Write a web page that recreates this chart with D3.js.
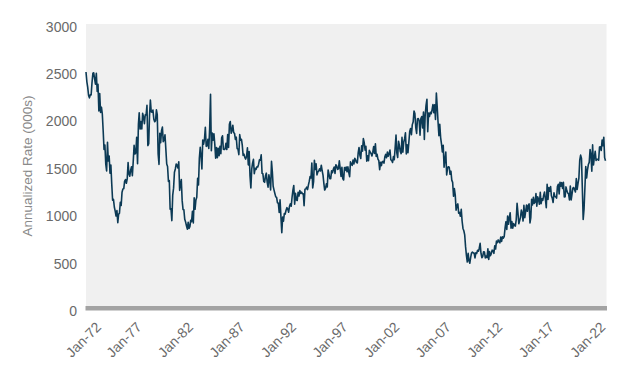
<!DOCTYPE html>
<html>
<head>
<meta charset="utf-8">
<script src="https://cdn.jsdelivr.net/npm/d3@7"></script>
<style>
  html, body { margin: 0; padding: 0; background: #fff; }
  svg { display: block; font-family: "Liberation Sans", Arial, Helvetica, sans-serif; }
</style>
</head>
<body>
<svg id="chart" width="630" height="378"></svg>
<script>
// Monthly housing starts, annualized rate (000s), Jan 1972 onward
const startMonth = "1972-01";
const starts1970s = [
  2494,2390,2334,2249,2221,2254,2252,2382,2481,2485,2421,2366,
  2481,2289,2365,2084,2266,2067,2123,2051,1874,1677,1724,1526,
  1451,1752,1555,1607,1426,1513,1316,1142,1150,1070,1026,975,
  1032,904,993,1005,1121,1087,1226,1260,1264,1344,1360,1321,
  1367,1538,1421,1395,1459,1495,1401,1550,1720,1629,1641,1804,
  1527,1943,2063,1892,1971,1893,2058,2020,1949,2042,2042,2142,
  1718,1738,2032,2197,2075,2070,2092,1996,1970,1981,2094,2044,
  1630,1520,1847,1748,1876,1913,1760,1778,1832,1681,1524,1498
];
const starts1980s = [
  1341,1350,1047,1051,927,1196,1269,1436,1471,1523,1510,1482,
  1547,1246,1306,1360,1140,1045,1041,940,911,873,837,910,
  843,866,931,917,1025,902,1166,1046,1144,1173,1372,1303,
  1586,1699,1606,1472,1776,1733,1785,1910,1710,1715,1785,1688,
  1897,2260,1663,1851,1774,1843,1732,1586,1698,1590,1689,1612,
  1711,1632,1800,1821,1680,1676,1684,1743,1676,1834,1698,1942,
  1972,1848,1876,1933,1854,1847,1782,1807,1687,1681,1623,1833,
  1774,1784,1726,1614,1628,1594,1575,1605,1695,1515,1656,1400,
  1271,1473,1532,1573,1421,1478,1467,1493,1492,1522,1569,1563,
  1621,1425,1422,1339,1331,1397,1427,1332,1279,1410,1351,1251
];
const starts1990s = [
  1551,1437,1289,1248,1212,1177,1171,1115,1110,1014,1145,969,
  798,965,921,1001,996,1036,1063,1049,1015,1079,1103,1079,
  1176,1250,1297,1099,1214,1145,1139,1226,1186,1244,1214,1227,
  1210,1210,1083,1258,1260,1280,1254,1300,1343,1392,1376,1533,
  1272,1337,1564,1465,1526,1409,1439,1450,1474,1450,1511,1455,
  1407,1316,1249,1267,1314,1281,1461,1416,1369,1369,1452,1431,
  1467,1491,1424,1516,1504,1467,1472,1557,1475,1392,1489,1370,
  1355,1486,1457,1492,1442,1494,1437,1390,1546,1520,1510,1566,
  1525,1584,1567,1540,1536,1641,1698,1614,1582,1715,1660,1792,
  1748,1670,1710,1553,1611,1559,1669,1648,1635,1608,1648,1708
];
const starts2000s = [
  1636,1737,1604,1626,1575,1559,1463,1541,1507,1549,1551,1532,
  1600,1625,1590,1649,1605,1636,1670,1567,1562,1540,1602,1568,
  1698,1829,1642,1592,1764,1717,1655,1633,1804,1648,1753,1788,
  1853,1629,1726,1643,1751,1867,1897,1833,1939,1967,2083,2057,
  1911,1846,1998,2003,1981,1828,2002,2024,1905,2072,1782,2042,
  2144,2207,1864,2061,2025,2068,2054,2095,2151,2065,2147,1994,
  2273,2119,1969,1821,1942,1802,1737,1650,1720,1491,1570,1649,
  1409,1480,1495,1490,1415,1448,1354,1330,1183,1264,1197,1037,
  1084,1103,1005,1013,973,1046,923,844,820,777,652,560,
  490,582,505,478,540,585,594,586,585,534,588,581
];
const starts2010s = [
  614,604,636,687,583,536,546,599,595,534,554,536,
  630,517,600,557,579,615,612,582,660,627,711,694,
  723,704,693,753,708,757,741,758,847,915,833,976,
  888,962,1010,847,917,847,895,877,869,936,1109,1012,
  894,927,961,1038,1004,922,1089,957,1025,1090,1025,1088,
  1103,902,955,1151,1093,1172,1108,1123,1213,1080,1178,1152,
  1099,1225,1105,1156,1140,1195,1228,1152,1063,1310,1150,1275,
  1236,1286,1189,1163,1118,1221,1181,1178,1164,1286,1310,1209,
  1332,1290,1327,1267,1332,1175,1178,1282,1241,1218,1209,1145,
  1291,1144,1203,1270,1276,1253,1228,1370,1256,1318,1376,1564
];
const starts2020s = [
  1617,1581,1277,938,1046,1273,1497,1376,1463,1518,1541,1677,
  1625,1447,1725,1514,1594,1657,1562,1573,1573,1563,1703,1706,
  1666,1777,1716,1805,1591,1559
];
const yTicks = [0, 500, 1000, 1500, 2000, 2500, 3000];
const xTickLabels = ["Jan-72","Jan-77","Jan-82","Jan-87","Jan-92","Jan-97","Jan-02","Jan-07","Jan-12","Jan-17","Jan-22"];
const yTitle = "Annualized Rate (000s)";

const values = [].concat(starts1970s, starts1980s, starts1990s, starts2000s, starts2010s, starts2020s);
const parseMonth = d3.timeParse("%Y-%m");
const t0 = parseMonth(startMonth);
const data = values.map((v, i) => ({ date: d3.timeMonth.offset(t0, i), value: v }));
const parseLabel = d3.timeParse("%b-%y");

const svg = d3.select("#chart");
const plot = { left: 86, right: 606, top: 24, bottom: 308.5 };

const x = d3.scaleTime()
  .domain([data[0].date, data[data.length - 1].date])
  .range([plot.left, plot.right - 0.5]);
const y = d3.scaleLinear().domain([0, 3000]).range([plot.bottom, plot.top]);

// plot background
svg.append("rect")
  .attr("x", plot.left).attr("y", plot.top)
  .attr("width", plot.right - plot.left + 0.5)
  .attr("height", plot.bottom - plot.top)
  .attr("fill", "#f0f0f0");

// series line
const line = d3.line().x(d => x(d.date)).y(d => y(d.value));
svg.append("path")
  .datum(data)
  .attr("d", line)
  .attr("fill", "none")
  .attr("stroke", "#0c3a55")
  .attr("stroke-width", 1.6)
  .attr("stroke-linejoin", "round");

// baseline bar at zero
svg.append("rect")
  .attr("x", plot.left - 0.5).attr("y", y(0) - 2.5)
  .attr("width", plot.right - plot.left + 1.5).attr("height", 4.5)
  .attr("fill", "#a3a3a3");

// y axis labels
const yAxis = d3.axisLeft(y).tickValues(yTicks).tickSize(0).tickPadding(9).tickFormat(d3.format("d"));
const gy = svg.append("g").attr("transform", `translate(${plot.left},0)`).call(yAxis);
gy.select(".domain").remove();
gy.selectAll("text")
  .attr("font-family", "Liberation Sans, Arial, sans-serif")
  .attr("font-size", 14)
  .attr("fill", "#6a6a6a")
  .attr("dy", "0.5em");

// x axis labels (rotated)
svg.append("g").selectAll("text")
  .data(xTickLabels)
  .join("text")
  .attr("transform", d => {
    const px = Math.max(x(parseLabel(d)) + 5, 102);
    return `translate(${px},328) rotate(-45)`;
  })
  .attr("text-anchor", "end")
  .attr("font-size", 14)
  .attr("fill", "#6a6a6a")
  .text(d => d);

// y title
svg.append("text")
  .attr("transform", "translate(32,166) rotate(-90)")
  .attr("text-anchor", "middle")
  .attr("font-size", 13.5)
  .attr("fill", "#8a8a8a")
  .text(yTitle);
</script>
</body>
</html>
